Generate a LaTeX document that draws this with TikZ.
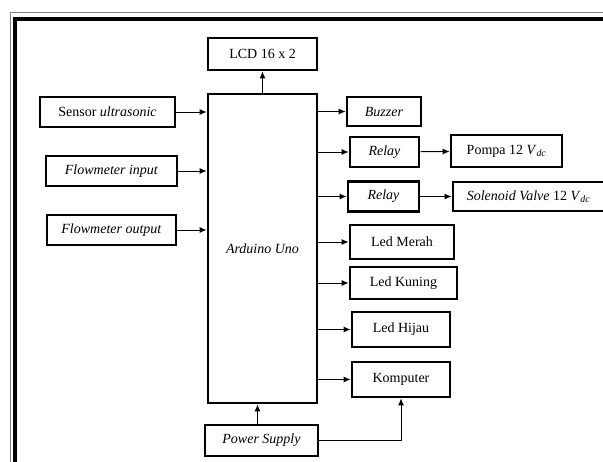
\documentclass[tikz,border=0pt]{standalone}
\usepackage{fontspec}
\setmainfont{Liberation Serif}
\usetikzlibrary{arrows.meta}
\usetikzlibrary{positioning}
\tikzset{
  > = {Latex[length=7pt, width=6pt]},
  blok/.style = {rectangle,
                 draw,
                 line width = 2.8pt,
                 align = center,
                 font = \fontsize{14}{16}\selectfont,
                 inner sep = 0pt},
  link/.style = {->, line width = 0.9pt}
}
\newcommand{\Vdc}{\textit{V}\textsubscript{\textit{dc}}}

\begin{document}
\begin{tikzpicture}[x=1pt, y=-1pt]
\useasboundingbox (0,0) rectangle (603,461);

% frame
\draw[gray, line width = 0.9pt] (10,475) -- (10,12.5) -- (615,12.5);
\draw[line width = 3.6pt] (15,475) -- (15,19) -- (615,19);

\node[blok, minimum width = 109pt, minimum height = 309pt](arduino) at (262.5,248.5){\textit{Arduino Uno}};
\node[blok, minimum width = 109pt, minimum height = 32pt](lcd) at (262.5,54){LCD 16 x 2};
\node[blok, minimum width = 113pt, minimum height = 31pt](power) at (261.5,440.5){\textit{Power Supply}};

% inputs
\node[blok, minimum width = 135pt, minimum height = 30pt](sensor) at (107.5,112){Sensor \textit{ultrasonic}};
\node[blok, minimum width = 131pt, minimum height = 30pt](flow-in) at (111.5,171){\textit{Flowmeter input}};
\node[blok, minimum width = 129pt, minimum height = 30pt](flow-out) at (111.5,230){\textit{Flowmeter output}};

% outputs
\node[blok, minimum width = 74pt, minimum height = 29pt](buzzer) at (384,111.5){\textit{Buzzer}};
\node[blok, minimum width = 69pt, minimum height = 30pt](relay-1) at (384.5,152){\textit{Relay}};
\node[blok, minimum width = 111pt, minimum height = 32pt](pompa) at (506.5,151){Pompa 12 \Vdc};
\node[blok, minimum width = 71pt, minimum height = 30pt](relay-2) at (383.5,196.5){\textit{Relay}};
\node[blok, minimum width = 151pt, minimum height = 29pt](solenoid) at (528.5,196.5){\textit{Solenoid Valve} 12 \Vdc};
\node[blok, minimum width = 104pt, minimum height = 34pt](led-merah) at (402,242){Led Merah};
\node[blok, minimum width = 107pt, minimum height = 32pt](led-kuning) at (403.5,283){Led Kuning};
\node[blok, minimum width = 98pt, minimum height = 35pt](led-hijau) at (401,329.5){Led Hijau};
\node[blok, minimum width = 98pt, minimum height = 35pt](komputer) at (401,379.5){Komputer};

\draw[link] (sensor) -- (sensor -| arduino.west);
\draw[link] (flow-in) -- (flow-in -| arduino.west);
\draw[link] (flow-out) -- (flow-out -| arduino.west);
\draw[link] (arduino) -- (lcd);
\draw[link] ([xshift=-4pt]power.north) -- ([xshift=-4pt]power.north |- arduino.south);
\draw[link] (power) -| (komputer);

\draw[link] (arduino.east |- buzzer) -- (buzzer);
\draw[link] (arduino.east |- relay-1) -- (relay-1);
\draw[link] (relay-1) -- (pompa);
\draw[link] (arduino.east |- relay-2) -- (relay-2);
\draw[link] (relay-2) -- (solenoid);
\draw[link] (arduino.east |- led-merah) -- (led-merah);
\draw[link] (arduino.east |- led-kuning) -- (led-kuning);
\draw[link] (arduino.east |- led-hijau) -- (led-hijau);
\draw[link] (arduino.east |- komputer) -- (komputer);

\end{tikzpicture}
\end{document}
